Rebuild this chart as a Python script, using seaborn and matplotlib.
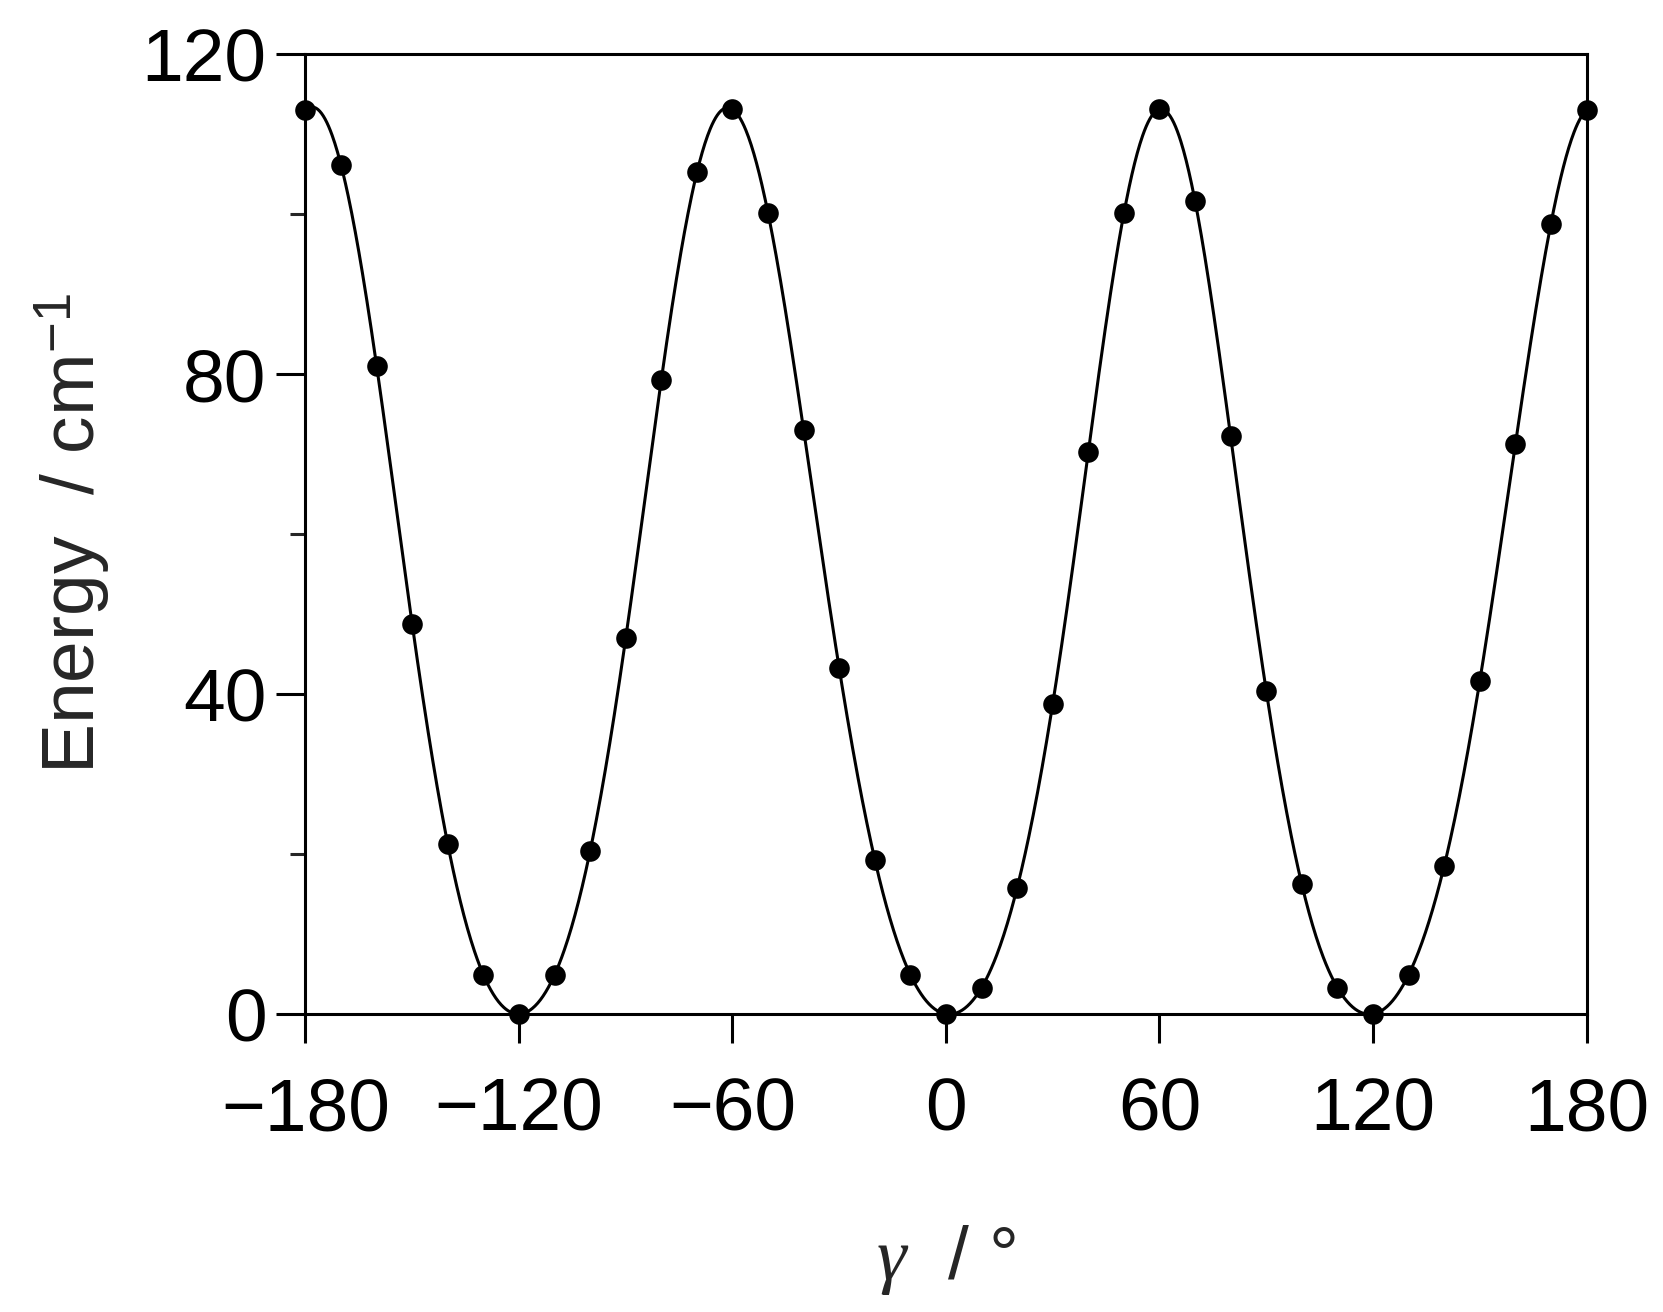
import numpy as np
import pandas as pd
import matplotlib
matplotlib.use("Agg")
import matplotlib.pyplot as plt
import seaborn as sns
from matplotlib.ticker import MultipleLocator

sns.set_theme(style="ticks")
plt.rcParams['font.family'] = ['Liberation Sans', 'DejaVu Sans']
plt.rcParams['mathtext.fontset'] = 'custom'
plt.rcParams['mathtext.rm'] = 'Liberation Sans'
plt.rcParams['mathtext.it'] = 'Liberation Serif:italic'

# Data
gamma_deg = [-180, -170, -160, -150, -140, -130, -120, -110, -100, -90,
             -80, -70, -60, -50, -40, -30, -20, -10, 0, 10,
             20, 30, 40, 50, 60, 70, 80, 90, 100, 110,
             120, 130, 140, 150, 160, 170, 180]
energy = [113.0, 106.1, 81.0, 48.7, 21.2, 4.9, 0.0, 4.9, 20.4, 47.0,
          79.3, 105.2, 113.1, 100.1, 73.0, 43.2, 19.3, 4.9, 0.0, 3.3,
          15.8, 38.8, 70.3, 100.1, 113.1, 101.6, 72.2, 40.4, 16.2, 3.3,
          0.0, 4.9, 18.5, 41.6, 71.2, 98.8, 113.0]

x_ticks = [-180, -120, -60, 0, 60, 120, 180]
x_tick_labels = ["\u2212180", "\u2212120", "\u221260", "0", "60", "120", "180"]
y_ticks = [0, 40, 80, 120]

df = pd.DataFrame({"gamma": gamma_deg, "E": energy})

# Smooth periodic curve through the measured points (trigonometric fit of the data)
y_per = np.asarray(energy[:-1], dtype=float)
N = len(y_per)
c = np.fft.rfft(y_per)
g_fine = np.linspace(-180, 180, 1441)
theta = 2 * np.pi * (g_fine - gamma_deg[0]) / 360.0
curve = np.full_like(g_fine, c[0].real)
for k in range(1, len(c)):
    w = 1.0 if (N % 2 == 0 and k == N // 2) else 2.0
    curve += w * (c[k].real * np.cos(k * theta) - c[k].imag * np.sin(k * theta))
curve /= N
fit = pd.DataFrame({"gamma": g_fine, "E": curve})

fig = plt.figure(figsize=(16.63, 13.12), dpi=100)
ax = fig.add_axes([0.1837, 0.2271, 0.954 - 0.1837, 0.9588 - 0.2271])

sns.lineplot(data=fit, x="gamma", y="E", ax=ax, color="black", linewidth=2.2,
             clip_on=False)
sns.scatterplot(data=df, x="gamma", y="E", ax=ax, color="black", s=220,
                edgecolor="black", linewidth=0, zorder=5, clip_on=False)

ax.set_xlim(-180, 180)
ax.set_ylim(0, 120)
ax.set_xticks(x_ticks)
ax.set_xticklabels(x_tick_labels)
ax.set_yticks(y_ticks)
ax.yaxis.set_minor_locator(MultipleLocator(20))

for s in ax.spines.values():
    s.set_linewidth(2.2)
    s.set_color("black")
    s.set_visible(True)

ax.tick_params(axis="both", which="major", direction="out", length=21, width=2.2,
               labelsize=54, colors="black")
ax.tick_params(axis="x", which="major", pad=24)
ax.tick_params(axis="y", which="major", pad=7)
ax.tick_params(axis="y", which="minor", direction="out", length=11, width=2.2)

ax.set_xlabel(r"$\gamma$  / °", fontsize=54, labelpad=56)
ax.set_ylabel(r"Energy  / cm$^{-1}$", fontsize=54, labelpad=20)

fig.savefig("out.png", dpi=100, facecolor="white")
